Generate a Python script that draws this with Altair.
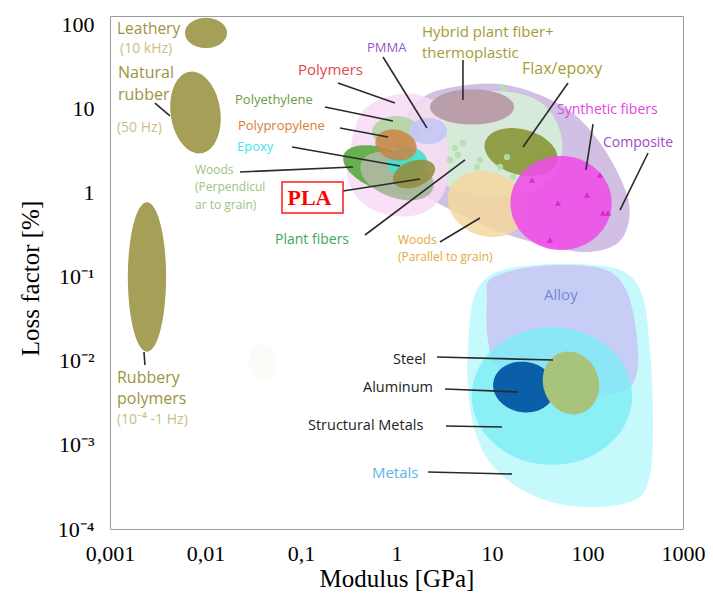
import numpy as np
import pandas as pd
import altair as alt

# ---------------- data: log10(Modulus [GPa]) and log10(Loss factor [%]) ----------------
X_TICKS = [0.001, 0.01, 0.1, 1, 10, 100, 1000]
X_TICK_LABELS = ["0,001", "0,01", "0,1", "1", "10", "100", "1000"]
Y_TICKS = [1e-4, 1e-3, 1e-2, 1e-1, 1, 10, 100]
Y_TICK_LABELS = ["10⁻⁴", "10⁻³", "10⁻²", "10⁻¹", "1", "10", "100"]

# material-class ellipses: centre (log E, log eta), half-extent in decades, tilt (deg)
ELL_NAMES = ["Faint", "Leathery", "Natural rubber", "Rubbery polymers",
             "Hybrid", "Woods parallel", "Flax/epoxy", "Synthetic fibers",
             "Woods perpendicular", "Plant fibers", "Polyethylene", "PMMA",
             "Epoxy", "Polypropylene", "PLA",
             "Structural metals", "Aluminum", "Steel"]
ELL_LOGE = [-1.40, -1.995, -2.105, -2.613,
            0.791, 0.948, 1.304, 1.723,
            -0.120, 0.005, -0.005, 0.330,
            0.110, -0.005, 0.183,
            1.628, 1.335, 1.827]
ELL_LOGETA = [-2.01, 1.905, 0.958, -1.0,
              1.024, -0.131, 0.488, -0.119,
              0.274, 0.202, 0.726, 0.738,
              0.369, 0.571, 0.226,
              -2.417, -2.310, -2.262]
ELL_DE = [0.15, 0.22, 0.26, 0.20,
          0.44, 0.42, 0.39, 0.53,
          0.46, 0.40, 0.25, 0.20,
          0.21, 0.22, 0.23,
          0.84, 0.325, 0.29]
ELL_DETA = [0.21, 0.18, 0.49, 0.89,
            0.21, 0.38, 0.27, 0.56,
            0.25, 0.26, 0.19, 0.155,
            0.18, 0.18, 0.155,
            0.82, 0.30, 0.38]
ELL_TILT = [0, 0, 8, 0,
            0, -20, -15, 0,
            -20, -20, 0, 0,
            0, -15, 20,
            0, -10, 20]

# irregular regions (outline points)
COMPOSITE_LOGE = [0.089, 0.298, 0.665, 1.084, 1.503, 1.869, 2.183, 2.414, 2.424, 2.288, 1.974, 1.555, 1.084, 0.613, 0.246, 0.089]
COMPOSITE_LOGETA = [0.869, 1.155, 1.274, 1.297, 1.167, 0.928, 0.512, -0.024, -0.381, -0.619, -0.703, -0.619, -0.464, -0.226, 0.036, 0.452]
FIBER_LOGE = [0.162, 0.351, 0.770, 1.188, 1.503, 1.691, 1.733, 1.607, 1.293, 0.874, 0.508, 0.246, 0.141]
FIBER_LOGETA = [0.988, 1.107, 1.202, 1.202, 1.083, 0.809, 0.452, 0.155, -0.024, -0.024, 0.095, 0.333, 0.690]
POLYMER_LOGE = [-0.487, -0.361, -0.068, 0.246, 0.455, 0.539, 0.508, 0.298, -0.016, -0.330, -0.508]
POLYMER_LOGETA = [0.512, 0.964, 1.155, 1.167, 0.988, 0.512, 0.036, -0.226, -0.274, -0.143, 0.155]
METALS_LOGE = [0.770, 0.874, 1.188, 1.817, 2.340, 2.571, 2.654, 2.686, 2.654, 2.497, 2.026, 1.555, 1.136, 0.874, 0.749]
METALS_LOGETA = [-1.512, -1.095, -0.893, -0.845, -0.917, -1.214, -1.869, -2.703, -3.357, -3.655, -3.738, -3.655, -3.393, -3.000, -2.345]
ALLOY_LOGE = [0.948, 1.000, 1.503, 2.131, 2.393, 2.508, 2.518, 2.340, 1.712, 1.084, 0.958]
ALLOY_LOGETA = [-1.274, -1.012, -0.869, -0.893, -1.131, -1.631, -2.131, -2.369, -2.405, -2.107, -1.750]

# individual data points inside the fibre / synthetic regions
DOT_LOGE = [0.613, 0.644, 0.696, 0.843, 0.874, 1.084, 1.220, 1.157, 0.560, 1.115]
DOT_LOGETA = [0.536, 0.452, 0.595, 0.309, 0.393, 0.309, 0.190, 0.428, 0.393, 1.250]
TRI_LOGE = [2.131, 1.995, 1.691, 1.607, 1.419, 2.162, 2.215]
TRI_LOGETA = [0.214, -0.024, -0.119, -0.560, 0.155, -0.238, -0.238]

# annotations
LABEL_TEXT = ["Leathery", "(10 kHz)", "Natural", "rubber", "(50 Hz)", "Rubbery", "polymers",
              "(10⁻⁴ -1 Hz)", "Polymers", "Polyethylene", "Polypropylene", "Epoxy", "Woods",
              "(Perpendicul", "ar to grain)", "Plant fibers", "PMMA", "Hybrid plant fiber+",
              "thermoplastic", "Flax/epoxy", "Synthetic fibers", "Composite", "Woods",
              "(Parallel to grain)", "Alloy", "Steel", "Aluminum", "Structural Metals", "Metals"]
LABEL_LOGE = [-2.927, -2.895, -2.916, -2.916, -2.927, -2.927, -2.927, -2.927, -1.031, -1.691,
              -1.660, -1.670, -2.110, -2.110, -2.110, -1.272, -0.309, 0.267, 0.267, 1.314,
              1.681, 2.162, 0.016, 0.016, 1.545, -0.037, -0.351, -0.927, -0.257]
LABEL_LOGETA = [1.952, 1.714, 1.428, 1.167, 0.774, -2.203, -2.453, -2.703, 1.464, 1.107,
                0.797, 0.547, 0.274, 0.071, -0.143, -0.560, 1.726, 1.917, 1.667, 1.476,
                0.988, 0.595, -0.560, -0.762, -1.214, -1.988, -2.322, -2.774, -3.333]

LEAD_E1 = [-2.529, -2.644, -0.613, -0.749, -0.592, -1.094, -1.639, -0.560, -0.330, -0.141,
           0.696, 1.796, 2.058, 2.634, 0.455, 0.424, 0.508, 0.518, 0.330]
LEAD_ETA1 = [1.071, -1.893, 1.309, 1.024, 0.774, 0.547, 0.250, 0.024, -0.500, 1.619,
             1.583, 1.309, 0.821, 0.476, -0.583, -1.953, -2.333, -2.774, -3.322]
LEAD_E2 = [-2.372, -2.634, -0.016, -0.037, -0.089, 0.037, -0.455, 0.246, 0.717, 0.319,
           0.696, 1.325, 1.984, 2.340, 0.874, 1.639, 1.272, 1.105, 1.209]
LEAD_ETA2 = [0.917, -2.048, 1.071, 0.857, 0.667, 0.321, 0.309, 0.167, 0.393, 0.774,
             1.107, 0.547, 0.274, -0.203, -0.298, -1.988, -2.369, -2.786, -3.345]

PLA_BOX_LOGE = (-1.199, -0.560)
PLA_BOX_LOGETA = (0.131, -0.238)
PLA_LOGE, PLA_LOGETA = -0.911, -0.054

# ---------------- styling ----------------
W, H = 573, 513
Y_TOP_LOG = 2.107
KX = W / 6.0
KY = H / (Y_TOP_LOG + 4.0)

OLIVE = "#a69f58"
ELL_STYLE = {
    "Faint": ("#fbfbf7", 1.0), "Leathery": (OLIVE, 1.0), "Natural rubber": (OLIVE, 1.0),
    "Rubbery polymers": (OLIVE, 1.0), "Hybrid": ("#b89ba8", 0.95),
    "Woods parallel": ("#f4d79e", 0.85), "Flax/epoxy": ("#8c9a40", 0.95),
    "Synthetic fibers": ("#ee4ce8", 0.88), "Woods perpendicular": ("#6aae52", 1.0),
    "Plant fibers": ("#aab89d", 0.97), "Polyethylene": ("#b2d5a0", 0.9),
    "PMMA": ("#c4c6f6", 0.9), "Epoxy": ("#3fe1cc", 0.9), "Polypropylene": ("#c98548", 0.85),
    "PLA": ("#938f40", 0.9), "Structural metals": ("#7cedf5", 0.8),
    "Aluminum": ("#0b5ea8", 1.0), "Steel": ("#a8c47c", 1.0),
}
TXT_OLIVE, TXT_TAN = "#9c9540", "#cbbd87"
LABEL_COLOR = [TXT_OLIVE, TXT_TAN, TXT_OLIVE, TXT_OLIVE, TXT_TAN, TXT_OLIVE, TXT_OLIVE, TXT_TAN,
               "#e2474b", "#6a9c43", "#d57d36", "#3ee4f2", "#9dc27f", "#9dc27f", "#9dc27f",
               "#3da862", "#9a56c8", "#a39c33", "#a39c33", "#a89d30", "#e244e4", "#a24ac4",
               "#e3a838", "#e3a838", "#7089d0", "#222222", "#222222", "#222222", "#5db6e8"]
LABEL_SIZE = [15.5, 14, 16, 16, 14, 16, 16, 14, 15, 13, 13, 13, 12, 12, 12, 14, 13, 15, 15, 16,
              14, 14, 12, 12, 15, 14.5, 14.5, 14.5, 15]

xs = alt.Scale(type="log", domain=[1e-3, 1e3], nice=False)
ys = alt.Scale(type="log", domain=[1e-4, 10 ** Y_TOP_LOG], nice=False)

x_label_expr = "[" + ",".join(f"'{t}'" for t in X_TICK_LABELS) + "][round(log(datum.value)/LN10) + 3]"
y_label_expr = "[" + ",".join(f"'{t}'" for t in Y_TICK_LABELS) + "][round(log(datum.value)/LN10) + 4]"


def X(field="E"):
    return alt.X(f"{field}:Q", scale=xs, title="Modulus [GPa]",
                 axis=alt.Axis(values=X_TICKS, labelExpr=x_label_expr, titleY=57,
                               titleBaseline="alphabetic", labelFlush=False))


def Y(field="eta"):
    return alt.Y(f"{field}:Q", scale=ys, title="Loss factor [%]",
                 axis=alt.Axis(values=Y_TICKS, labelExpr=y_label_expr, titleX=-72, titleY=262,
                               titleBaseline="alphabetic", titleAngle=-90, titleAlign="center",
                               labelFlush=False))


def ellipse_df(k):
    t = np.linspace(0, 2 * np.pi, 90, endpoint=False)
    a = ELL_DE[k] * KX
    b = ELL_DETA[k] * KY
    th = np.radians(ELL_TILT[k])
    px = a * np.cos(t)
    py = b * np.sin(t)
    xr = px * np.cos(th) - py * np.sin(th)
    yr = px * np.sin(th) + py * np.cos(th)
    return pd.DataFrame({"E": 10 ** (ELL_LOGE[k] + xr / KX),
                         "eta": 10 ** (ELL_LOGETA[k] + yr / KY),
                         "i": np.arange(len(t))})


def ellipse_layer(name):
    k = ELL_NAMES.index(name)
    col, op = ELL_STYLE[name]
    return alt.Chart(ellipse_df(k)).mark_line(
        interpolate="linear-closed", fill=col, fillOpacity=op, strokeWidth=0
    ).encode(x=X(), y=Y(), order="i:Q")


def blob_layer(loge, logeta, col, op):
    df = pd.DataFrame({"E": 10 ** np.array(loge), "eta": 10 ** np.array(logeta),
                       "i": np.arange(len(loge))})
    return alt.Chart(df).mark_line(
        interpolate="cardinal-closed", fill=col, fillOpacity=op, strokeWidth=0
    ).encode(x=X(), y=Y(), order="i:Q")


layers = []
for nm in ["Faint", "Leathery", "Natural rubber", "Rubbery polymers"]:
    layers.append(ellipse_layer(nm))
layers.append(blob_layer(COMPOSITE_LOGE, COMPOSITE_LOGETA, "#cfbde2", 0.95))
layers.append(blob_layer(FIBER_LOGE, FIBER_LOGETA, "#d6eed9", 0.92))
layers.append(blob_layer(POLYMER_LOGE, POLYMER_LOGETA, "#f8d9f4", 0.82))
for nm in ["Hybrid", "Woods parallel", "Flax/epoxy", "Synthetic fibers"]:
    layers.append(ellipse_layer(nm))

dots = pd.DataFrame({"E": 10 ** np.array(DOT_LOGE), "eta": 10 ** np.array(DOT_LOGETA)})
layers.append(alt.Chart(dots).mark_point(filled=True, shape="circle", size=40, color="#b3e0ad",
                                         opacity=0.9).encode(x=X(), y=Y()))
tris = pd.DataFrame({"E": 10 ** np.array(TRI_LOGE), "eta": 10 ** np.array(TRI_LOGETA)})
layers.append(alt.Chart(tris).mark_point(filled=True, shape="triangle-up", size=40, color="#d41ccc",
                                         opacity=0.8).encode(x=X(), y=Y()))

for nm in ["Woods perpendicular", "Plant fibers", "Polyethylene", "PMMA", "Epoxy",
           "Polypropylene", "PLA"]:
    layers.append(ellipse_layer(nm))

layers.append(blob_layer(METALS_LOGE, METALS_LOGETA, "#c5f9fb", 1.0))
layers.append(blob_layer(ALLOY_LOGE, ALLOY_LOGETA, "#c8caf4", 0.95))
for nm in ["Structural metals", "Aluminum", "Steel"]:
    layers.append(ellipse_layer(nm))

leads = pd.DataFrame({"E": 10 ** np.array(LEAD_E1), "eta": 10 ** np.array(LEAD_ETA1),
                      "E2": 10 ** np.array(LEAD_E2), "eta2": 10 ** np.array(LEAD_ETA2)})
layers.append(alt.Chart(leads).mark_rule(color="#2a2a2a", strokeWidth=1.6).encode(
    x=X(), y=Y(), x2="E2:Q", y2="eta2:Q"))

labels = pd.DataFrame({"E": 10 ** np.array(LABEL_LOGE), "eta": 10 ** np.array(LABEL_LOGETA),
                       "label": LABEL_TEXT, "color": LABEL_COLOR, "size": LABEL_SIZE})
layers.append(alt.Chart(labels).mark_text(align="left", baseline="middle", font="Open Sans").encode(
    x=X(), y=Y(), text="label:N", color=alt.Color("color:N", scale=None),
    size=alt.Size("size:Q", scale=None)))

pla_box = pd.DataFrame({"E": [10 ** PLA_BOX_LOGE[0]], "E2": [10 ** PLA_BOX_LOGE[1]],
                        "eta": [10 ** PLA_BOX_LOGETA[0]], "eta2": [10 ** PLA_BOX_LOGETA[1]]})
layers.append(alt.Chart(pla_box).mark_rect(fill="white", stroke="#ff1a1a", strokeWidth=1.5).encode(
    x=X(), x2="E2:Q", y=Y(), y2="eta2:Q"))
pla_txt = pd.DataFrame({"E": [10 ** PLA_LOGE], "eta": [10 ** PLA_LOGETA], "t": ["PLA"]})
layers.append(alt.Chart(pla_txt).mark_text(font="Liberation Serif", fontWeight="bold", fontSize=22,
                                           color="#ff0000", align="center", baseline="middle").encode(
    x=X(), y=Y(), text="t:N"))

chart = alt.layer(*layers).properties(
    width=W, height=H,
    autosize=alt.AutoSizeParams(type="none"),
    padding={"left": 102, "top": 8, "right": 22, "bottom": 64},
).configure_view(
    stroke="#9a9a9a", strokeWidth=1
).configure_axis(
    domain=False, grid=False, ticks=False,
    labelFont="Liberation Serif", labelFontSize=22, labelColor="#000000",
    titleFont="Liberation Serif", titleFontSize=25, titleFontWeight="normal", titleColor="#000000",
).configure_axisX(labelPadding=14).configure_axisY(labelPadding=16)

chart.save("out.html", embed_options={"renderer": "svg", "actions": False})
